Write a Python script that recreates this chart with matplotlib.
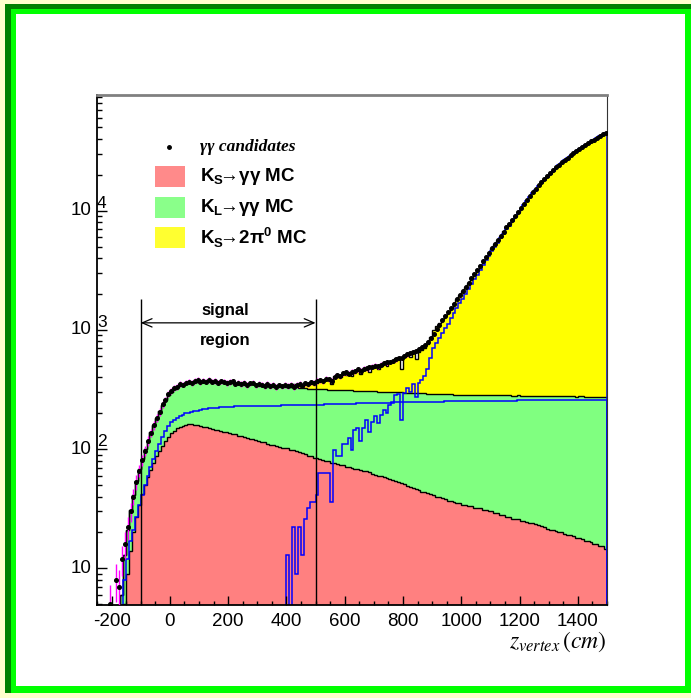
import numpy as np
import matplotlib.pyplot as plt
from matplotlib.patches import Rectangle
from matplotlib.ticker import MultipleLocator, LogLocator, NullFormatter

# binning of z_vertex (cm), 10 cm bins
z_edges = np.arange(-250, 1501, 10)

# K_S -> gamma gamma MC (red)
ks_gg = np.array([
    0, 0, 0, 0, 0, 0, 0, 1, 2, 5,                       # -250 .. -150
    9, 14, 20, 27, 34, 42, 50, 58, 67, 77,              # -150 .. -50
    87, 97, 107, 117, 127, 136, 143, 149, 154, 157,     # -50 .. 50
    159, 161, 161, 160, 158, 156, 154, 152, 150, 148,   # 50 .. 150
    146, 144, 143, 140, 138, 136, 134, 133, 130, 128,   # 150 .. 250
    126, 125, 122, 121, 120, 116, 115, 114, 110, 109,   # 250 .. 350
    108, 106, 105, 103, 103, 102, 99, 98, 96, 94,       # 350 .. 450
    92, 91, 88, 87, 85, 84, 83, 81, 80, 79,             # 450 .. 550
    77, 76, 75, 74, 73, 71, 71, 70, 68, 68,             # 550 .. 650
    67, 66, 65, 64, 62, 61, 60, 59, 58, 57,             # 650 .. 750
    56, 55, 54, 53, 52, 51, 49, 48, 47, 46,             # 750 .. 850
    45, 44, 44, 43, 42, 41, 40, 40, 39, 38,             # 850 .. 950
    37, 37, 36, 35, 35, 34, 34, 33, 33, 32,             # 950 .. 1050
    32, 32, 31, 31, 30, 30, 29, 29, 28, 28,             # 1050 .. 1150
    27, 27, 26, 26, 26, 25, 25, 24.5, 24, 24,           # 1150 .. 1250
    23.5, 23, 22.5, 22, 21.5, 21, 21, 20.5, 20, 20,     # 1250 .. 1350
    19.5, 19, 19, 18.5, 18, 18, 17.5, 17, 17, 16.5,     # 1350 .. 1450
    16, 16, 15.5, 15.5, 14.5,                           # 1450 .. 1500
])

# K_L -> gamma gamma MC (green, also drawn alone in blue)
kl_gg = np.array([
    0, 0, 0, 0, 0, 0, 0, 2, 4, 8,
    12, 17, 21, 27, 34, 41, 50, 60, 71, 83,
    96, 110, 126, 142, 157, 168, 176, 183, 190, 195,
    199, 202, 205, 208, 210, 214, 217, 219, 220, 221,
    222, 223, 224, 225, 226, 227, 227, 228, 228, 229,
    229, 229, 230, 230, 230, 231, 231, 231, 231, 232,
    232, 232, 232, 233, 233, 233, 233, 233, 234, 234,
    234, 234, 234, 235, 235, 235, 236, 236, 237, 237,
    238, 238, 239, 239, 240, 240, 240, 241, 241, 242,
    242, 242, 243, 243, 243, 244, 244, 244, 245, 245,
    245, 246, 246, 246, 247, 247, 247, 248, 248, 248,
    248, 249, 249, 249, 249, 250, 250, 250, 250, 251,
    251, 251, 251, 252, 252, 252, 252, 252, 253, 253,
    253, 253, 253, 254, 254, 254, 254, 254, 255, 255,
    255, 255, 255, 255, 256, 256, 256, 256, 256, 256,
    257, 257, 257, 257, 257, 257, 257, 258, 258, 258,
    258, 258, 258, 258, 258, 259, 259, 259, 259, 259,
    259, 259, 259, 259, 259,
])

# K_S -> 2pi0 MC (yellow, also drawn alone in blue)
ks_2pi0 = np.array([
    0, 0, 0, 0, 0, 0, 0, 0, 0, 0,
    0, 0, 0, 0, 0, 0, 0, 0, 0, 0,
    0, 0, 0, 0, 0, 0, 0, 0, 0, 0,
    0, 0, 0, 0, 0, 0, 0, 0, 0, 0,
    0, 0, 0, 0, 0, 0, 0, 0, 0, 0,
    0, 0, 0, 0, 0, 0, 0, 0, 0, 0,
    0, 0, 0, 0, 0, 13, 3, 22, 9, 22,
    13, 26, 32, 36, 36, 41, 63, 63, 63, 63,
    36, 98, 88, 88, 110, 110, 125, 98, 145, 150,
    118, 150, 175, 140, 170, 190, 165, 195, 213, 200,
    234, 245, 284, 290, 175, 294, 324, 300, 350, 276,
    360, 380, 410, 470, 580, 700, 780, 860, 950, 1040,
    1130, 1250, 1390, 1530, 1670, 1830, 2010, 2210, 2430, 2660,
    2910, 3190, 3510, 3840, 4190, 4560, 4960, 5410, 5910, 6410,
    6960, 7510, 8160, 8810, 9510, 10300, 11150, 12050, 12950, 13950,
    14950, 16000, 17100, 18200, 19300, 20450, 21600, 22800, 24000, 25200,
    26400, 27650, 28900, 30150, 31400, 32700, 34000, 35300, 36600, 37900,
    39250, 40600, 42000, 43400, 44900,
])

# gamma gamma candidates (data points)
gg_data = np.array([
    0, 0, 0, 0, 5, 0, 8, 7, 12, 16,
    22, 30, 40, 53, 66, 81, 97, 117, 137, 158,
    183, 205, 238, 258, 290, 306, 325, 334, 352, 348,
    362, 368, 359, 372, 380, 366, 376, 369, 381, 368,
    373, 362, 371, 368, 359, 366, 370, 354, 362, 351,
    358, 346, 356, 361, 343, 352, 348, 340, 351, 337,
    345, 332, 343, 336, 344, 339, 348, 333, 346, 352,
    341, 356, 350, 363, 358, 372, 378, 371, 390, 384,
    376, 405, 418, 410, 432, 441, 428, 446, 451, 468,
    455, 472, 478, 486, 492, 501, 496, 512, 527, 534,
    541, 552, 566, 583, 578, 601, 622, 640, 655, 668,
    690, 716, 745, 790, 850, 930, 1020, 1110, 1200, 1300,
    1410, 1530, 1660, 1800, 1950, 2110, 2280, 2480, 2700, 2930,
    3180, 3460, 3770, 4100, 4460, 4830, 5230, 5680, 6180, 6690,
    7240, 7790, 8430, 9080, 9800, 10600, 11420, 12310, 13250, 14220,
    15240, 16280, 17390, 18460, 19600, 20750, 21870, 23090, 24300, 25450,
    26700, 27920, 29190, 30430, 31690, 32980, 34260, 35610, 36850, 38200,
    39510, 40900, 42290, 43650, 45200,
])

signal_region = [-100, 500]
legend_labels = [r'γγ candidates', r'K$_\mathbf{S}\!$→γγ MC',
                 r'K$_\mathbf{L}\!$→γγ MC', r'K$_\mathbf{S}\!$→2π$^\mathbf{0}$ MC']

plt.rcParams['font.family'] = ['Liberation Sans', 'DejaVu Sans']
plt.rcParams['mathtext.fontset'] = 'custom'
plt.rcParams['mathtext.rm'] = 'Liberation Sans'
plt.rcParams['mathtext.bf'] = 'Liberation Sans:bold'
plt.rcParams['axes.unicode_minus'] = False

W, H = 691, 698
fig = plt.figure(figsize=(W / 100, H / 100), dpi=100)
fig.patch.set_facecolor('#ffffcc')


def frame_box(x0, y0, x1, y1, c):
    fig.add_artist(Rectangle((x0 / W, 1 - y1 / H), (x1 - x0) / W, (y1 - y0) / H,
                             transform=fig.transFigure, facecolor=c,
                             edgecolor='none', zorder=-10))


frame_box(5, 4, 691, 693, '#008000')
frame_box(11, 9, 691, 693, '#00ff00')
frame_box(16, 14, 685, 686, 'white')

ax = fig.add_axes([97 / W, 1 - 605 / H, 510 / W, 510 / H])
ax.set_yscale('log')
ax.set_xlim(-250, 1500)
ax.set_ylim(4.92, 9.35e4)

low_stack = ks_gg + kl_gg
total = low_stack + ks_2pi0
centers = z_edges[:-1] + 5

ax.stairs(total, z_edges, fill=True, baseline=1, color='#ffff00', lw=0)
ax.stairs(low_stack, z_edges, fill=True, baseline=1, color='#80ff80', lw=0)
ax.stairs(ks_gg, z_edges, fill=True, baseline=1, color='#ff8080', lw=0)
for v in (total, low_stack, ks_gg):
    ax.stairs(v, z_edges, color='black', lw=1, baseline=None)
ax.stairs(kl_gg, z_edges, color='#0000ff', lw=1.1, baseline=0)
ax.stairs(ks_2pi0, z_edges, color='#0000ff', lw=1.1, baseline=0)

# signal region
ax.vlines(signal_region, 4.92, 1807, colors='black', lw=1, zorder=4)
ax.annotate('', xy=(signal_region[0], 1146), xytext=(signal_region[1], 1146),
            arrowprops=dict(arrowstyle='<->,head_length=0.7,head_width=0.3',
                            color='black', lw=0.9, shrinkA=0, shrinkB=0))
ax.text(190, 1450, 'signal', ha='center', va='center', fontsize=12, fontweight='bold')
ax.text(190, 811, 'region', ha='center', va='center', fontsize=12, fontweight='bold')

# data
m = gg_data > 0
ax.errorbar(centers[m], gg_data[m], yerr=np.sqrt(gg_data[m]), fmt='o', ms=2.6,
            color='black', ecolor='magenta', elinewidth=1, capsize=0, zorder=6)

# legend (drawn by hand, ROOT style)
def px(x, y):
    return (x - 97) / 510, (605 - y) / 510

ax.plot(*px(169, 147), 'o', ms=2.5, color='black', transform=ax.transAxes, clip_on=False)
ax.text(*px(200, 147), legend_labels[0], transform=ax.transAxes, va='center',
        family=['Liberation Serif', 'DejaVu Serif'], style='italic', fontweight='bold', fontsize=12.5)
for (y0, y1), c, lab in zip([(166, 187), (197, 218), (227, 248)],
                            ['#ff8a8a', '#8aff8a', '#ffff30'], legend_labels[1:]):
    x0, yb = px(155, y1)
    ax.add_patch(Rectangle((x0, yb), 30 / 510, (y1 - y0) / 510, transform=ax.transAxes,
                           facecolor=c, edgecolor='none'))
    ax.text(*px(200, (y0 + y1) / 2), lab, transform=ax.transAxes, va='center',
            fontsize=13.5, fontweight='bold')

# axes styling
ax.xaxis.set_major_locator(MultipleLocator(200))
ax.xaxis.set_minor_locator(MultipleLocator(50))
ax.yaxis.set_major_locator(LogLocator(base=10))
ax.yaxis.set_minor_locator(LogLocator(base=10, subs=np.arange(2, 10)))
ax.yaxis.set_major_formatter(NullFormatter())
ax.yaxis.set_minor_formatter(NullFormatter())
ax.tick_params(which='both', direction='in', top=False, right=False, width=1, labelsize=13.5)
ax.tick_params(axis='x', which='major', length=6.5, pad=6)
ax.tick_params(axis='x', which='minor', length=3.2)
ax.tick_params(axis='y', which='major', length=7.2)
ax.tick_params(axis='y', which='minor', length=3.6)
ax.spines['top'].set_color('#808080')
ax.spines['top'].set_linewidth(2)
ax.spines['right'].set_color('#333333')
for s in ('left', 'bottom'):
    ax.spines[s].set_linewidth(1.3)

ytr = ax.get_yaxis_transform()
for k in [1, 2, 3, 4]:
    ax.text(-0.01, 10 ** k, '10', transform=ytr, ha='right', va='center', fontsize=13.5)
    if k > 1:
        ax.text(0.0, 10 ** k, str(k), transform=ytr, ha='left', va='bottom', fontsize=12.5)

fig.text(607 / W, 1 - 642 / H, r'$z_{vertex}\,(cm)$', ha='right', va='center',
         fontsize=17, math_fontfamily='stix')

fig.savefig('out.png', dpi=100, facecolor=fig.get_facecolor())
